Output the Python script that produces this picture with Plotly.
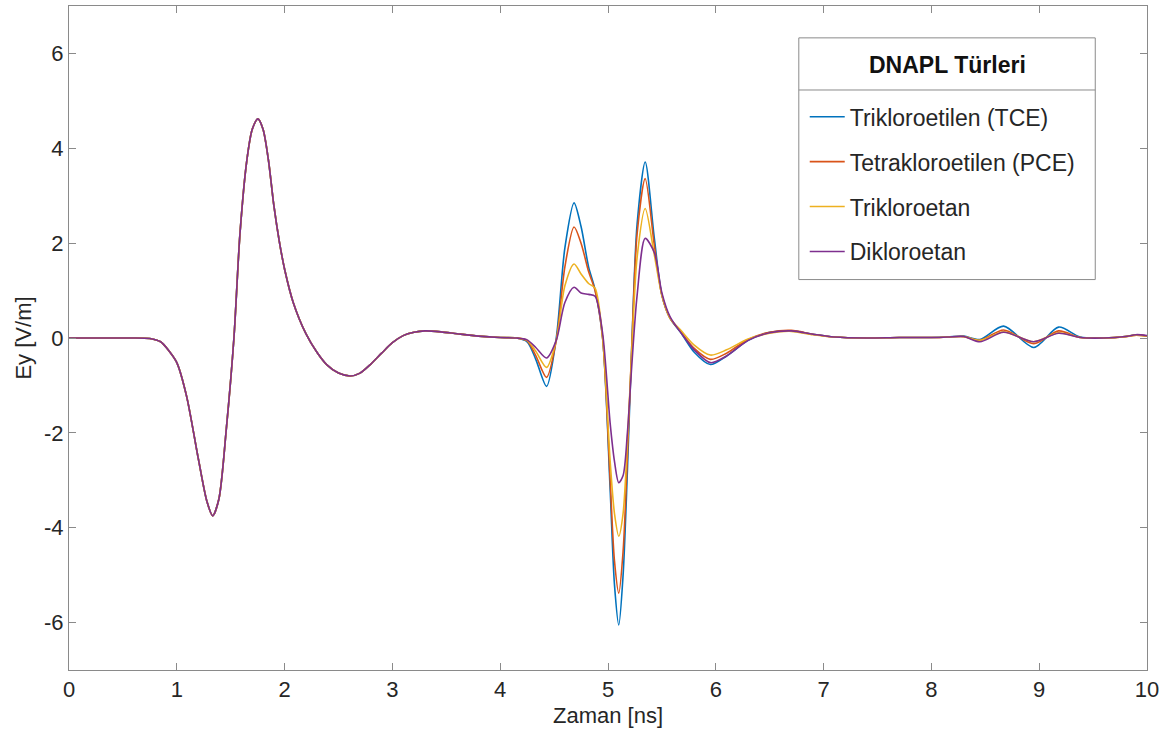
import plotly.graph_objects as go

# ---- data ----
t_direct = [0.0, 0.5, 0.75, 0.85, 0.93, 1.0, 1.09, 1.2, 1.28, 1.333, 1.39, 1.46, 1.53, 1.586, 1.65,
            1.70, 1.753, 1.80, 1.85, 1.9, 1.95, 2.0, 2.08, 2.2, 2.3, 2.39, 2.5, 2.61, 2.7, 2.8,
            2.9, 3.0, 3.1, 3.2, 3.3, 3.45, 3.6, 3.8, 4.0]
v_direct = [0.0, 0.0, -0.01, -0.08, -0.28, -0.52, -1.22, -2.55, -3.45, -3.75, -3.4, -1.9, 0.0, 2.2, 3.75,
            4.4, 4.62, 4.4, 3.75, 2.8, 2.05, 1.45, 0.75, 0.08, -0.3, -0.56, -0.74, -0.8, -0.74, -0.55,
            -0.32, -0.1, 0.05, 0.12, 0.15, 0.13, 0.09, 0.04, 0.01]

t_refl = [4.15, 4.25, 4.33, 4.43, 4.52, 4.6, 4.685, 4.75, 4.82, 4.88, 4.95, 5.02, 5.06, 5.1, 5.14,
          5.18, 5.22, 5.27, 5.345, 5.43, 5.5, 5.575, 5.68, 5.8, 5.95, 6.1, 6.3, 6.5, 6.7, 6.9,
          7.1, 7.4, 7.7, 8.0, 8.15, 8.3, 8.45, 8.67, 8.95, 9.18, 9.38, 9.6, 9.8, 9.9, 10.0]

tce = [0.0, -0.08, -0.45, -1.02, 0.0, 1.9, 2.85, 2.35, 1.5, 1.02, 0.0, -3.2, -5.2, -6.05, -5.0,
       -2.8, -0.2, 2.4, 3.71, 2.1, 0.9, 0.42, 0.1, -0.3, -0.56, -0.38, -0.05, 0.12, 0.15, 0.08,
       0.02, 0.0, 0.01, 0.01, 0.02, 0.04, -0.03, 0.25, -0.2, 0.23, 0.02, 0.0, 0.03, 0.07, 0.04]
pce = [0.0, -0.06, -0.37, -0.83, -0.05, 1.5, 2.34, 2.0, 1.4, 1.0, 0.0, -3.0, -4.7, -5.38, -4.5,
       -2.5, -0.2, 2.2, 3.36, 1.95, 0.9, 0.42, 0.12, -0.22, -0.45, -0.32, -0.03, 0.12, 0.16, 0.08,
       0.02, 0.0, 0.01, 0.01, 0.02, 0.03, -0.05, 0.17, -0.12, 0.15, 0.01, 0.0, 0.03, 0.06, 0.04]
trikloroetan = [0.0, -0.05, -0.28, -0.62, -0.05, 1.1, 1.56, 1.35, 1.15, 1.05, 0.0, -2.6, -3.7, -4.18, -3.7,
                -2.2, -0.3, 1.7, 2.73, 1.75, 0.9, 0.42, 0.15, -0.15, -0.36, -0.25, -0.02, 0.1, 0.14, 0.07,
                0.02, 0.0, 0.01, 0.01, 0.02, 0.03, -0.05, 0.13, -0.08, 0.11, 0.01, 0.0, 0.03, 0.06, 0.04]
dikloroetan = [0.0, -0.04, -0.2, -0.42, -0.05, 0.75, 1.07, 0.95, 0.92, 0.88, 0.1, -1.8, -2.6, -3.05, -2.9,
               -2.0, -0.6, 0.9, 2.1, 1.8, 0.95, 0.45, 0.1, -0.25, -0.52, -0.38, -0.05, 0.11, 0.15, 0.08,
               0.02, 0.0, 0.01, 0.01, 0.02, 0.03, -0.08, 0.12, -0.08, 0.1, 0.01, 0.0, 0.03, 0.07, 0.05]

names = ["Trikloroetilen (TCE)", "Tetrakloroetilen (PCE)", "Trikloroetan", "Dikloroetan"]
legend_title = "DNAPL Türleri"
colors = ["#0072BD", "#D95319", "#EDB120", "#7E2F8E"]
series = [tce, pce, trikloroetan, dikloroetan]

x_ticks = list(range(0, 11))
y_ticks = [-6, -4, -2, 0, 2, 4, 6]

FONT = "Liberation Sans, Arial, Helvetica, sans-serif"
TXT = "#262626"
AX = "#8a8a8a"

fig = go.Figure()
for i, (nm, col, vals) in enumerate(zip(names, colors, series)):
    fig.add_trace(go.Scatter(
        x=t_direct + t_refl, y=v_direct + vals, mode="lines", name=nm,
        line=dict(color=col, width=1.6, shape="spline", smoothing=0.8),
        legendgroup=f"g{i}",
    ))

axis_common = dict(
    showgrid=False, zeroline=False, showline=True, linecolor=AX, linewidth=1,
    mirror="ticks", ticks="inside", ticklen=7, tickcolor=AX, tickwidth=1,
    tickfont=dict(family=FONT, size=22, color=TXT),
)

# legend box geometry (paper coordinates)
LX0, LX1 = 0.677, 0.952
LY0, LY1 = 0.588, 0.952

fig.update_layout(
    width=1167, height=740,
    margin=dict(l=69, r=20, t=6, b=70),
    paper_bgcolor="white", plot_bgcolor="white",
    xaxis=dict(range=[0, 10], tickvals=x_ticks, ticktext=[str(v) for v in x_ticks],
               title=dict(text="Zaman [ns]", font=dict(family=FONT, size=22, color=TXT), standoff=6),
               **axis_common),
    yaxis=dict(range=[-7, 7], tickvals=y_ticks, ticktext=[str(v) for v in y_ticks],
               title=dict(text="Ey [V/m]", font=dict(family=FONT, size=22, color=TXT), standoff=6),
               **axis_common),
    legend=dict(
        x=0.6825, y=0.8655, xanchor="left", yanchor="top",
        bgcolor="rgba(0,0,0,0)", borderwidth=0,
        font=dict(family=FONT, size=23, color=TXT),
        tracegroupgap=12, itemwidth=35,
    ),
    showlegend=True,
)

# legend frame, title and separator
fig.add_shape(type="rect", xref="paper", yref="paper", layer="above",
              x0=LX0, x1=LX1, y0=LY0, y1=LY1,
              fillcolor="white", line=dict(color=AX, width=1))
fig.add_shape(type="line", xref="paper", yref="paper", layer="above",
              x0=LX0, x1=LX1, y0=0.8735, y1=0.8735,
              line=dict(color=AX, width=1))
fig.add_annotation(xref="paper", yref="paper", x=(LX0 + LX1) / 2, y=0.911,
                   text=f"<b>{legend_title}</b>", showarrow=False,
                   xanchor="center", yanchor="middle",
                   font=dict(family=FONT, size=23, color="#111111"))

fig.write_html("out.html")
